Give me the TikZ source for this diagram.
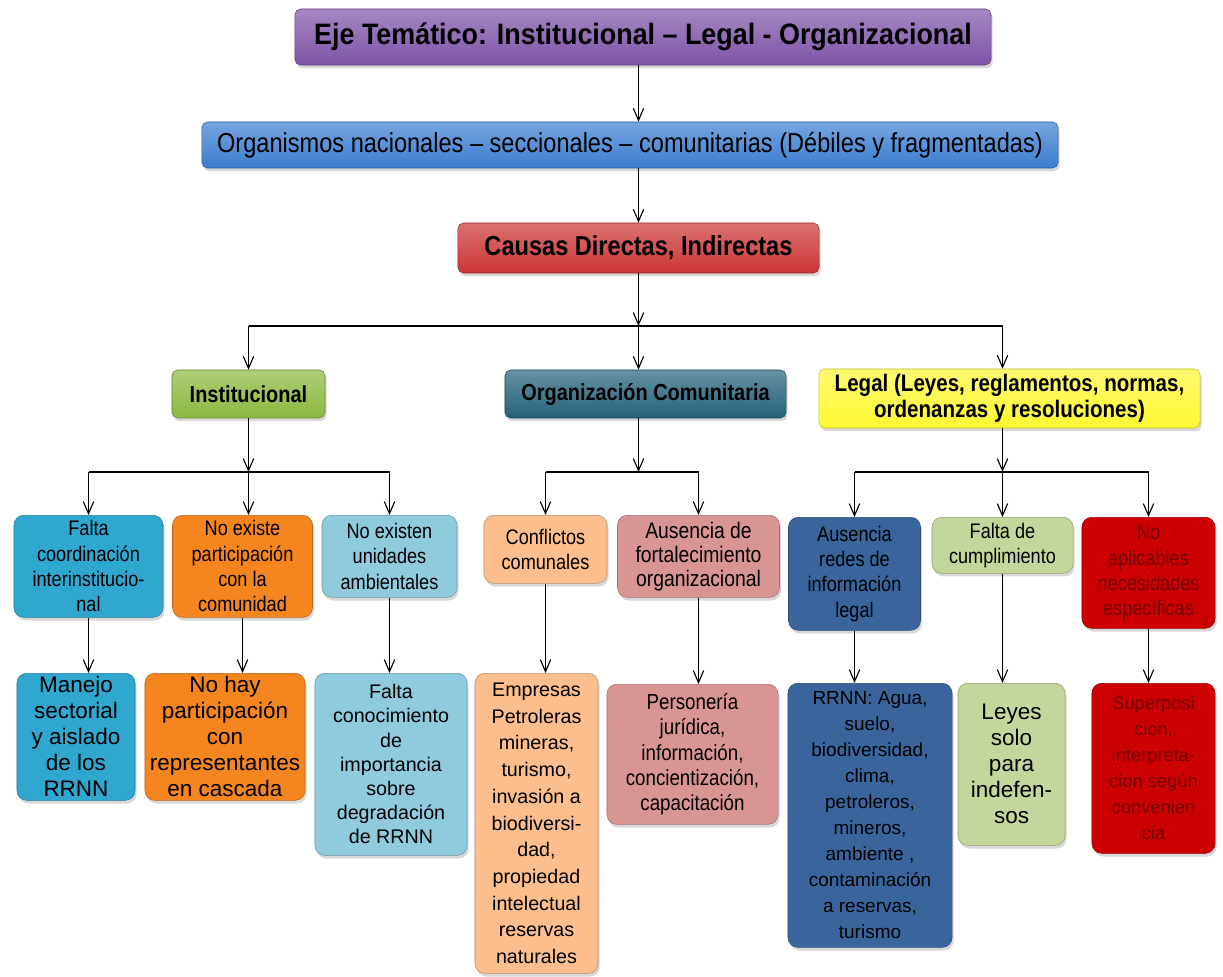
\documentclass[tikz,border=0pt]{standalone}
\usepackage{fontspec}
\setmainfont{Liberation Sans}
\newfontfamily\narrowfont[FakeStretch=0.86]{Liberation Sans}
\newfontfamily\titlefont[FakeStretch=0.91]{Liberation Sans}
\usetikzlibrary{positioning,arrows.meta,shadows}

\definecolor{ejecol}{HTML}{7E54A8}
\definecolor{orgcol}{HTML}{3B7DD0}
\definecolor{causacol}{HTML}{CC3535}
\definecolor{instcol}{HTML}{8CB83F}
\definecolor{comcol}{HTML}{24627A}
\definecolor{legalcol}{HTML}{FFF833}
\definecolor{cyancol}{HTML}{2FA7CF}
\definecolor{orangecol}{HTML}{F5861F}
\definecolor{skycol}{HTML}{8FCADD}
\definecolor{peachcol}{HTML}{FBBE8C}
\definecolor{rosecol}{HTML}{D99594}
\definecolor{navycol}{HTML}{3A659C}
\definecolor{sagecol}{HTML}{C3D69B}
\definecolor{redcol}{HTML}{CC0000}

\tikzset{
	shade/.style={drop shadow={opacity=0.3, shadow xshift=0.4mm, shadow yshift=-0.8mm}},
	head/.style={rounded corners=4pt, draw=#1!75!black, top color=#1!70!white, bottom color=#1,
		align=center, inner sep=1pt, shade, font=\narrowfont\bfseries\fontsize{16.5}{18}\selectfont},
	cause/.style={rounded corners=7pt, draw=#1!75!black, fill=#1, align=center, inner sep=1pt,
		anchor=north, shade, font=\narrowfont\fontsize{15}{18}\selectfont},
	effect/.style={cause=#1, font=\fontsize{16}{18.5}\selectfont},
	link/.style={-{Straight Barb[length=3mm,width=2.6mm]}, line width=0.8pt},
	bar/.style={line width=1pt},
}

\begin{document}
\begin{tikzpicture}[x=0.025cm, y=-0.025cm]
	\path[fill=white, use as bounding box] (0,0) rectangle (1223,977);

	% top chain
	\node [head=ejecol, minimum width=17.4cm, minimum height=1.4cm,
		font=\titlefont\bfseries\fontsize{21}{24}\selectfont] (eje) at (643,37)
		{Eje Temático: Institucional – Legal - Organizacional};
	\node [head=orgcol, minimum width=21.4cm, minimum height=1.15cm,
		font=\narrowfont\fontsize{19.5}{22}\selectfont] (org) at (630,145)
		{Organismos nacionales – seccionales – comunitarias (Débiles y fragmentadas)};
	\node [head=causacol, minimum width=9.025cm, minimum height=1.25cm,
		font=\narrowfont\bfseries\fontsize{19.5}{22}\selectfont] (causas) at (638.5,248)
		{Causas Directas, Indirectas};

	% second level
	\node [head=instcol, minimum width=3.825cm, minimum height=1.2cm] (inst) at (248.5,394) {Institucional};
	\node [head=comcol, minimum width=7.025cm, minimum height=1.2cm] (com) at (645.5,394) {Organización Comunitaria};
	\node [head=legalcol, minimum width=9.525cm, minimum height=1.475cm,
		font=\narrowfont\bfseries\fontsize{17}{18.5}\selectfont] (legal) at (1009.5,398.5)
		{Legal (Leyes, reglamentos, normas,\\ordenanzas y resoluciones)};

	% causes
	\node [cause=cyancol, minimum width=3.725cm, minimum height=2.55cm] (fcoord) at (88.5,515)
		{Falta\\coordinación\\interinstitucio-\\nal};
	\node [cause=orangecol, minimum width=3.5cm, minimum height=2.55cm] (noexiste) at (242.5,515)
		{No existe\\participación\\con la\\comunidad};
	\node [cause=skycol, minimum width=3.375cm, minimum height=2.05cm] (nounid) at (389.5,515)
		{No existen\\unidades\\ambientales};
	\node [cause=peachcol, minimum width=3.075cm, minimum height=1.7cm] (conflic) at (545.5,515)
		{Conflictos\\comunales};
	\node [cause=rosecol, minimum width=4.05cm, minimum height=2.05cm,
		font=\narrowfont\fontsize{16}{17}\selectfont] (ausfort) at (698.5,515)
		{Ausencia de\\fortalecimiento\\organizacional};
	\node [cause=navycol, minimum width=3.3cm, minimum height=2.825cm] (ausred) at (854.5,517)
		{Ausencia\\redes de\\información\\legal};
	\node [cause=sagecol, minimum width=3.525cm, minimum height=1.4cm] (cumpl) at (1002.5,517)
		{Falta de\\cumplimiento};
	\node [cause=redcol, minimum width=3.325cm, minimum height=2.775cm, text=red!45!black] (noapl) at (1148.5,517)
		{No\\aplicables\\necesidades\\específicas};

	% effects
	\node [effect=cyancol, minimum width=2.95cm, minimum height=3.175cm] (manejo) at (76,673)
		{Manejo\\sectorial\\y aislado\\de los\\RRNN};
	\node [effect=orangecol, minimum width=4cm, minimum height=3.175cm] (nohay) at (225,673)
		{No hay\\participación\\con\\representantes\\en cascada};
	\node [effect=skycol, minimum width=3.8cm, minimum height=4.55cm,
		font=\fontsize{14}{17.2}\selectfont] (conoc) at (391,673)
		{Falta\\conocimiento\\de\\importancia\\sobre\\degradación\\de RRNN};
	\node [effect=peachcol, minimum width=3.075cm, minimum height=7.5cm,
		font=\fontsize{14}{19}\selectfont] (empresas) at (536.5,673)
		{Empresas\\Petroleras\\mineras,\\turismo,\\invasión a\\biodiversi-\\dad,\\propiedad\\intelectual\\reservas\\naturales};
	\node [effect=rosecol, minimum width=4.275cm, minimum height=3.5cm,
		font=\narrowfont\fontsize{15.5}{18}\selectfont] (person) at (692.5,684)
		{Personería\\jurídica,\\información,\\concientización,\\capacitación};
	\node [effect=navycol, minimum width=4.1cm, minimum height=6.6cm,
		font=\fontsize{13.5}{18.5}\selectfont] (rrnn) at (870,683)
		{RRNN: Agua,\\suelo,\\biodiversidad,\\clima,\\petroleros,\\mineros,\\ambiente ,\\contaminación\\a reservas,\\turismo};
	\node [effect=sagecol, minimum width=2.675cm, minimum height=4.05cm] (leyes) at (1011.5,683)
		{Leyes\\solo\\para\\indefen-\\sos};
	\node [effect=redcol, minimum width=3.075cm, minimum height=4.25cm, text=red!45!black,
		font=\fontsize{13}{18.5}\selectfont] (superp) at (1153.5,683)
		{Superposi\\cion,\\interpreta-\\cion según\\convenien\\cia};

	\coordinate (split) at (638.5,326);
	\coordinate (split2) at (0,472);

	% connectors
	\draw [link] (eje.south -| split) -- (org.north -| split);
	\draw [link] (org.south -| split) -- (causas.north -| split);
	\draw [link] (causas.south) -- (split);
	\draw [bar] (split -| inst.north) -- (split -| cumpl.north);
	\draw [link] (split -| inst.north) -- (inst.north);
	\draw [link] (split) -- (split |- com.north);
	\draw [link] (split -| cumpl.north) -- (legal.north -| cumpl.north);

	\draw [link] (inst.south) -- (inst.south |- split2);
	\draw [bar] (fcoord.north |- split2) -- (nounid.north |- split2);
	\draw [link] (fcoord.north |- split2) -- (fcoord.north);
	\draw [link] (inst.south |- split2) -- (inst.south |- noexiste.north);
	\draw [link] (nounid.north |- split2) -- (nounid.north);

	\draw [link] (com.south -| split) -- (split |- split2);
	\draw [bar] (conflic.north |- split2) -- (ausfort.north |- split2);
	\draw [link] (conflic.north |- split2) -- (conflic.north);
	\draw [link] (ausfort.north |- split2) -- (ausfort.north);

	\draw [link] (legal.south -| cumpl.north) -- (cumpl.north |- split2);
	\draw [bar] (ausred.north |- split2) -- (noapl.north |- split2);
	\draw [link] (ausred.north |- split2) -- (ausred.north);
	\draw [link] (cumpl.north |- split2) -- (cumpl.north);
	\draw [link] (noapl.north |- split2) -- (noapl.north);

	\draw [link] (fcoord.south) -- (fcoord.south |- manejo.north);
	\draw [link] (noexiste.south) -- (noexiste.south |- nohay.north);
	\draw [link] (nounid.south) -- (nounid.south |- conoc.north);
	\draw [link] (conflic.south) -- (conflic.south |- empresas.north);
	\draw [link] (ausfort.south) -- (ausfort.south |- person.north);
	\draw [link] (ausred.south) -- (ausred.south |- rrnn.north);
	\draw [link] (cumpl.south) -- (cumpl.south |- leyes.north);
	\draw [link] (noapl.south) -- (noapl.south |- superp.north);
\end{tikzpicture}
\end{document}
